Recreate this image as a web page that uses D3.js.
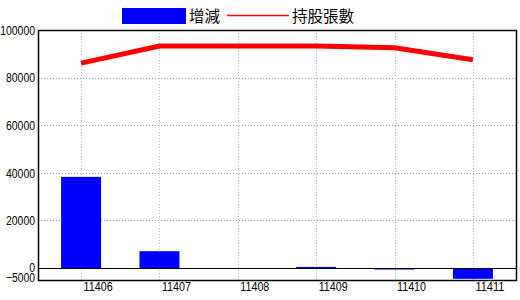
<!DOCTYPE html>
<html>
<head>
<meta charset="utf-8">
<script src="https://cdn.jsdelivr.net/npm/d3@7"></script>
<style>
  body { margin: 0; background: #fff; }
  .tick text { font-family: "Liberation Sans", Arial, sans-serif; font-size: 12.5px; fill: #000; }
</style>
</head>
<body>
<div id="chart"></div>
<script>
// data
var months = ["11406", "11407", "11408", "11409", "11410", "11411"];
var change = [38300, 7100, 0, 500, -600, -4500];
var holders = [86100, 93300, 93300, 93300, 92500, 87500];
var yTicks = [-5000, 0, 20000, 40000, 60000, 80000, 100000];
var legendNames = ["增減", "持股張數"];

var margin = {top: 30, right: 4, bottom: 20, left: 38},
    width = 520 - margin.left - margin.right,
    height = 300 - margin.top - margin.bottom;

var svg = d3.select("#chart")
  .append("svg")
    .attr("width", 520)
    .attr("height", 300)
  .append("g")
    .attr("transform", "translate(" + margin.left + "," + margin.top + ")");

var x = d3.scalePoint()
  .domain(months)
  .range([0, width])
  .padding(0.55);

var y = d3.scaleLinear()
  .domain([-5000, 100000])
  .range([height, 0]);

// narrow digits like the original bitmap font
function squeeze(sel) {
  sel.attr("textLength", function() { return this.textContent.length * 5.8; })
     .attr("lengthAdjust", "spacingAndGlyphs");
}

// horizontal grid
svg.append("g")
  .selectAll("line")
  .data(yTicks.filter(function(d) { return d > 0 && d < 100000; }))
  .enter().append("line")
    .attr("x1", 0).attr("x2", width)
    .attr("y1", function(d) { return Math.round(y(d)) + 0.5; })
    .attr("y2", function(d) { return Math.round(y(d)) + 0.5; })
    .style("stroke", "#999")
    .style("stroke-dasharray", "1,2");

// vertical grid
svg.append("g")
  .selectAll("line")
  .data(months)
  .enter().append("line")
    .attr("x1", function(d) { return Math.round(x(d)) + 0.5; })
    .attr("x2", function(d) { return Math.round(x(d)) + 0.5; })
    .attr("y1", 0).attr("y2", height)
    .style("stroke", "#9bbfd4")
    .style("stroke-dasharray", "1,2");

// bars
var barW = 40;
svg.append("g")
  .selectAll("rect")
  .data(change)
  .enter().append("rect")
    .attr("x", function(d, i) { return x(months[i]) - barW / 2; })
    .attr("y", function(d) { return y(Math.max(0, d)); })
    .attr("width", barW)
    .attr("height", function(d) { return Math.abs(y(d) - y(0)); })
    .style("fill", "#0000ff");

// zero line
svg.append("line")
  .attr("x1", 0).attr("x2", width)
  .attr("y1", Math.round(y(0)) + 0.5).attr("y2", Math.round(y(0)) + 0.5)
  .style("stroke", "#000");

// holders line
svg.append("path")
  .datum(holders)
  .attr("d", d3.line()
    .x(function(d, i) { return x(months[i]); })
    .y(function(d) { return y(d); }))
  .style("fill", "none")
  .style("stroke", "#ff0000")
  .style("stroke-width", 5);

// frame
svg.append("rect")
  .attr("x", 0.5).attr("y", 0.5)
  .attr("width", width).attr("height", height)
  .style("fill", "none")
  .style("stroke", "#000")
  .style("stroke-width", 1.5);

// axes
svg.append("g")
  .call(d3.axisLeft(y).tickValues(yTicks).tickSize(0).tickPadding(3).tickFormat(d3.format("d")))
  .call(function(g) { g.select(".domain").remove(); })
  .selectAll("text")
    .call(squeeze)
    .attr("dy", function(d) { return d < 0 ? "0.08em" : (d === 0 ? "0.25em" : "0.35em"); });

svg.append("g")
  .attr("transform", "translate(0," + height + ")")
  .call(d3.axisBottom(x).tickSize(0))
  .call(function(g) { g.select(".domain").remove(); })
  .selectAll("text")
    .call(squeeze)
    .style("text-anchor", "start")
    .attr("x", 2)
    .attr("y", 11)
    .attr("dy", 0);

// legend
var legend = d3.select("svg").append("g");
legend.append("rect")
  .attr("x", 122).attr("y", 8)
  .attr("width", 64).attr("height", 16)
  .style("fill", "#0000ff");
legend.append("text")
  .attr("x", 189).attr("y", 22)
  .text(legendNames[0])
  .style("font-family", "'Noto Sans CJK TC', sans-serif")
  .style("font-size", "15.5px");
legend.append("line")
  .attr("x1", 227).attr("x2", 289)
  .attr("y1", 15.5).attr("y2", 15.5)
  .style("stroke", "#ff0000")
  .style("stroke-width", 1.5);
legend.append("text")
  .attr("x", 292).attr("y", 22)
  .text(legendNames[1])
  .style("font-family", "'Noto Sans CJK TC', sans-serif")
  .style("font-size", "15.5px");
</script>
</body>
</html>
